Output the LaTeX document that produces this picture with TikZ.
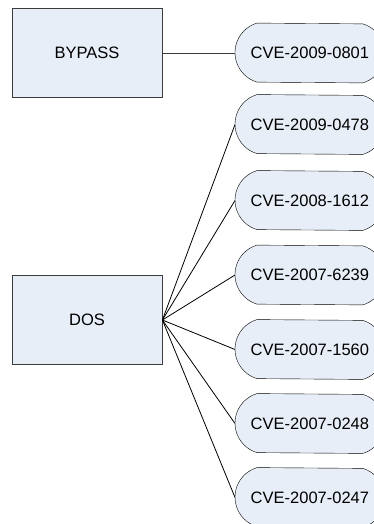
\documentclass[tikz,border=0pt]{standalone}
\usepackage{fontspec}
\setmainfont{Liberation Sans}
\usetikzlibrary{calc,backgrounds,positioning}
\definecolor{vfill}{HTML}{E8EEF7}
\definecolor{vline}{HTML}{3C3C3C}

\begin{document}
\begin{tikzpicture}[x=1pt, y=-1pt, line width=0.8pt]

    \tikzstyle{attack} = [rectangle, minimum width=150pt, minimum height=89pt, text centered, draw=vline, fill=vfill, font=\fontsize{16.5}{20}\selectfont]
    \tikzstyle{cve} = [rectangle, minimum width=149pt, minimum height=59pt, inner sep=0pt, anchor=west, text centered, font=\fontsize{16.5}{20}\selectfont]
    \tikzstyle{pill} = [draw=black, fill=vfill]

    \useasboundingbox (0,0) rectangle (374,524);
    \clip (0,0) rectangle (374,524);

    \node (bypass) [attack] at (87,53)     {BYPASS};
    \node (dos)    [attack] at (87,320)    {DOS};

    \node (c0801) [cve] at (235,53)    {CVE-2009-0801};
    \node (c0478) [cve] at (235,124.5) {CVE-2009-0478};
    \node (c1612) [cve] at (235,200.5) {CVE-2008-1612};
    \node (c6239) [cve] at (235,275)   {CVE-2007-6239};
    \node (c1560) [cve] at (235,349.5) {CVE-2007-1560};
    \node (c0248) [cve] at (235,423.5) {CVE-2007-0248};
    \node (c0247) [cve] at (235,497.5) {CVE-2007-0247};

    % rounded ends of the cve boxes, behind the labels
    \begin{scope}[on background layer]
        \foreach \n in {c0801,c0478,c1612,c6239,c1560,c0248,c0247}
            \path[pill] ($(\n.north west)+(22,0)$)
                arc[start angle=106.6, end angle=253.4, radius=30.8pt]
                -- ($(\n.south east)+(-22,0)$)
                arc[start angle=-73.4, end angle=73.4, radius=30.8pt]
                -- cycle;
    \end{scope}

    \path[-, draw=vline]  (bypass.east)  edge  (c0801.west);
    \path[-]  (dos.east)  edge  (c0478.west);
    \path[-]  (dos.east)  edge  (c1612.west);
    \path[-]  (dos.east)  edge  (c6239.west);
    \path[-]  (dos.east)  edge  (c1560.west);
    \path[-]  (dos.east)  edge  (c0248.west);
    \path[-]  (dos.east)  edge  (c0247.west);
\end{tikzpicture}
\end{document}
